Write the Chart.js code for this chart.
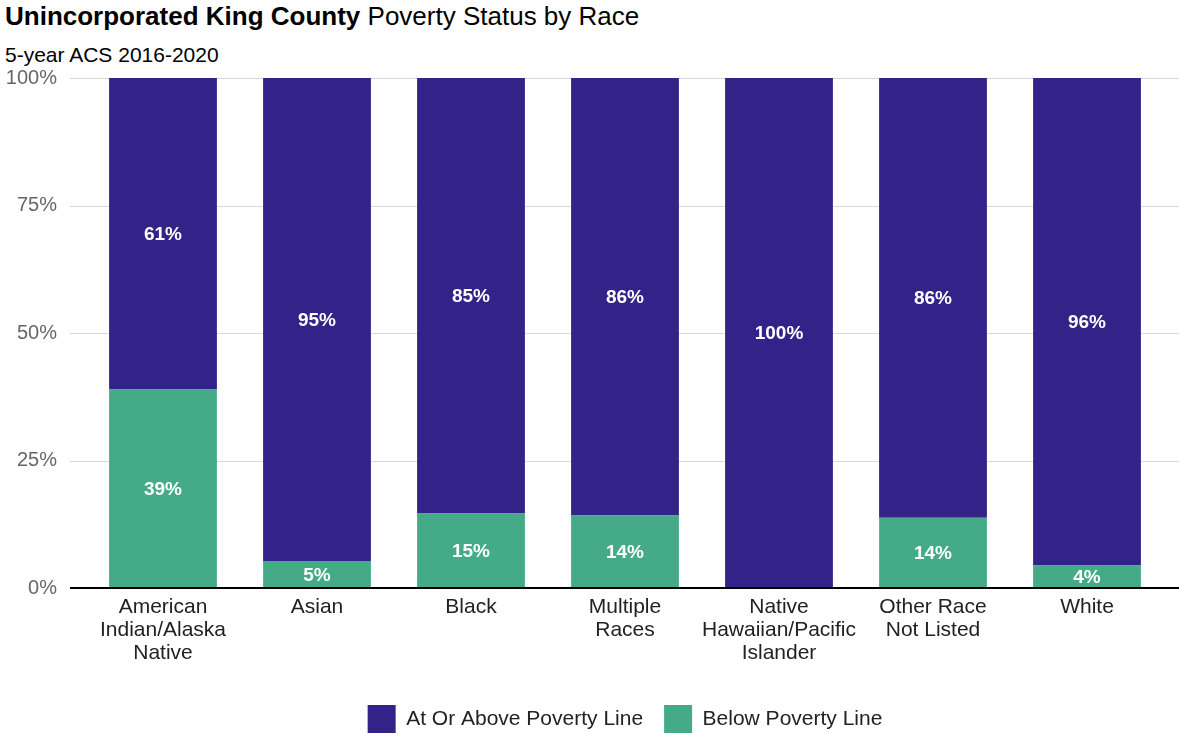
<!DOCTYPE html>
<html lang="en">
<head>
<meta charset="utf-8">
<title>Poverty Status by Race</title>
<script src="https://cdn.jsdelivr.net/npm/chart.js@4.4.1/dist/chart.umd.min.js"></script>
<style>
    html, body { margin: 0; padding: 0; background: #fff; }
    body { width: 1179px; height: 734px; position: relative; overflow: hidden; font-family: "Liberation Sans", Arial, sans-serif; }
    #titulo { position: absolute; left: 5px; top: 1px; font-size: 26px; line-height: 30px; color: #000; white-space: nowrap; }
    #titulo b { font-weight: bold; }
    #subtitulo { position: absolute; left: 5px; top: 43px; font-size: 21px; line-height: 24px; color: #000; white-space: nowrap; }
    #lienzo { position: absolute; left: 0; top: 0; }
</style>
</head>
<body>
<div id="titulo"><b>Unincorporated King County</b> Poverty Status by Race</div>
<div id="subtitulo">5-year ACS 2016-2020</div>
<canvas id="lienzo" width="1179" height="743"></canvas>
<script>
// Categorías (razas) - etiquetas en varias líneas
const categorias = [
    ['American', 'Indian/Alaska', 'Native'],
    ['Asian'],
    ['Black'],
    ['Multiple', 'Races'],
    ['Native', 'Hawaiian/Pacific', 'Islander'],
    ['Other Race', 'Not Listed'],
    ['White']
];

// Porcentajes
const bajoPobreza = [38.9, 5.3, 14.6, 14.2, 0, 13.8, 4.4];
const sobrePobreza = [61.1, 94.7, 85.4, 85.8, 100, 86.2, 95.6];

const ticksY = [0, 25, 50, 75, 100];

const colorSobre = '#332288';
const colorBajo = '#44AA88';
const fuente = '"Liberation Sans", Arial, sans-serif';

// Líneas de grilla horizontales (se extienden fuera del área del gráfico, como el original)
const pluginGrilla = {
    id: 'grilla',
    beforeDatasetsDraw(chart) {
        const ctx = chart.ctx;
        const y = chart.scales.y;
        const izq = chart.chartArea.left - 16;
        const der = chart.width;
        ctx.save();
        ticksY.forEach(v => {
            if (v === 0) return;
            const py = Math.round(y.getPixelForValue(v));
            ctx.strokeStyle = '#d9d9d9';
            ctx.lineWidth = 1;
            ctx.beginPath();
            ctx.moveTo(izq, py + 0.5);
            ctx.lineTo(der, py + 0.5);
            ctx.stroke();
        });
        ctx.restore();
    },
    afterDatasetsDraw(chart) {
        const ctx = chart.ctx;
        const py = Math.round(chart.scales.y.getPixelForValue(0));
        ctx.save();
        ctx.strokeStyle = '#000';
        ctx.lineWidth = 2;
        ctx.beginPath();
        ctx.moveTo(chart.chartArea.left - 16, py);
        ctx.lineTo(chart.width, py);
        ctx.stroke();
        ctx.restore();
    }
};

// Etiquetas de valor dentro de cada segmento
const pluginEtiquetas = {
    id: 'etiquetas',
    afterDatasetsDraw(chart) {
        const ctx = chart.ctx;
        ctx.save();
        ctx.font = 'bold 19px ' + fuente;
        ctx.fillStyle = '#fff';
        ctx.textAlign = 'center';
        ctx.textBaseline = 'middle';
        chart.data.datasets.forEach((ds, i) => {
            const meta = chart.getDatasetMeta(i);
            meta.data.forEach((barra, j) => {
                const valor = ds.data[j];
                if (!valor) return;
                const c = barra.getCenterPoint();
                ctx.fillText(Math.round(valor) + '%', c.x, c.y + 1);
            });
        });
        ctx.restore();
    }
};

Chart.defaults.font.family = fuente;

new Chart(document.getElementById('lienzo'), {
    type: 'bar',
    data: {
        labels: categorias,
        datasets: [
            {
                label: 'Below Poverty Line',
                data: bajoPobreza,
                backgroundColor: colorBajo
            },
            {
                label: 'At Or Above Poverty Line',
                data: sobrePobreza,
                backgroundColor: colorSobre
            }
        ]
    },
    options: {
        responsive: false,
        animation: false,
        layout: { padding: { top: 78, right: 15, left: 0, bottom: 0 } },
        datasets: {
            bar: { categoryPercentage: 1, barPercentage: 0.70 }
        },
        plugins: {
            legend: {
                position: 'bottom',
                fullSize: false,
                reverse: true,
                labels: {
                    boxWidth: 28,
                    boxHeight: 28,
                    padding: 21,
                    color: '#222',
                    font: { size: 21 }
                }
            },
            tooltip: { enabled: false }
        },
        scales: {
            x: {
                stacked: true,
                afterFit: s => { s.height += 11; },
                grid: { display: false, drawTicks: false },
                border: { display: false },
                ticks: {
                    color: '#222',
                    padding: 8,
                    maxRotation: 0,
                    autoSkip: false,
                    font: { size: 21, lineHeight: 1.095 }
                }
            },
            y: {
                stacked: true,
                min: 0,
                max: 100,
                afterFit: s => { s.width = 86; },
                afterBuildTicks: s => { s.ticks = ticksY.map(v => ({ value: v })); },
                grid: { display: false, drawTicks: false },
                border: { display: false },
                ticks: {
                    color: '#666',
                    padding: 29,
                    font: { size: 20 },
                    callback: v => v + '%'
                }
            }
        }
    },
    plugins: [pluginGrilla, pluginEtiquetas]
});
</script>
</body>
</html>
